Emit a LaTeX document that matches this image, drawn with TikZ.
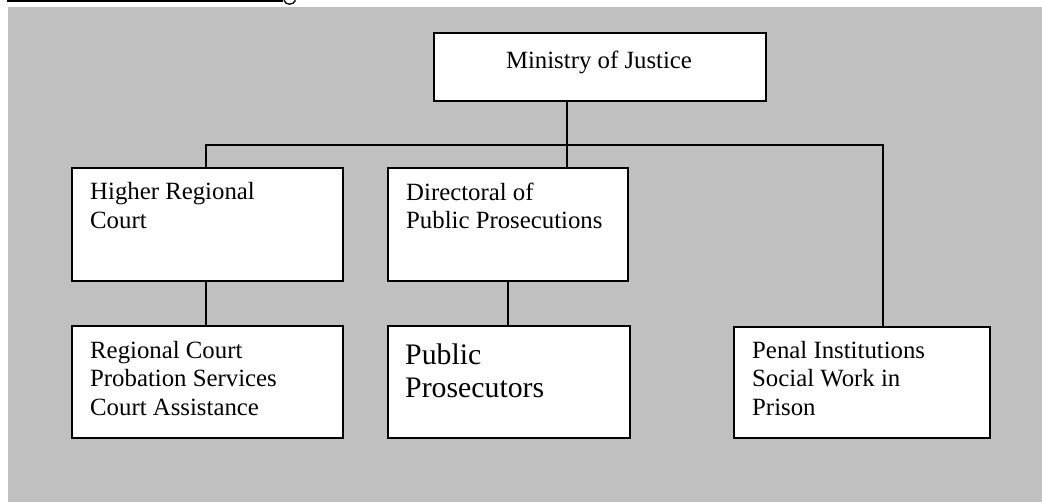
\documentclass[tikz,border=0pt]{standalone}
\usepackage{fontspec}
\setmainfont{Liberation Serif}
\definecolor{panel}{HTML}{C0C0C0}
\begin{document}
\begin{tikzpicture}[x=1pt,y=-1pt,
  unitbox/.style={draw=black, line width=1.8pt, fill=white, inner sep=0pt, anchor=north west},
  link/.style={line width=1.8pt},
  body/.style={inner sep=0pt, align=left, anchor=base west,
    font=\fontsize{24.8}{28.5}\selectfont},
  big/.style={body, font=\fontsize{29.8}{33}\selectfont}]
\useasboundingbox (0,0) rectangle (1042,502);

% heading rule and the tail of a descender above the panel
\fill (7,0) rectangle (283,2.5);
\draw[line width=1.3pt] (284,0.3) .. controls (285.5,5.5) and (293.5,5.5) .. (295.5,0.3);

% grey panel
\fill[panel] (8,7) rectangle (1042,502);

% boxes
\node[unitbox, minimum width=332pt, minimum height=68pt]  (ministry)    at (433,32)  {};
\node[unitbox, minimum width=271pt, minimum height=113pt] (higher)      at (71,167)  {};
\node[unitbox, minimum width=240pt, minimum height=113pt] (dpp)         at (387,167) {};
\node[unitbox, minimum width=271pt, minimum height=112pt] (regional)    at (71,325)  {};
\node[unitbox, minimum width=242pt, minimum height=112pt] (prosecutors) at (387,325) {};
\node[unitbox, minimum width=256pt, minimum height=111pt] (penal)       at (733,326) {};

% connectors
\coordinate (trunk) at (567,145);
\coordinate (barL)  at (206,145);
\coordinate (barR)  at (883,145);
\draw[link] (ministry.south -| trunk) -- (trunk) -- (dpp.north -| trunk);
\draw[link] (higher.north -| barL) -- (barL) -- (barR) -- (penal.north -| barR);
\draw[link] (higher.south -| barL) -- (regional.north -| barL);
\draw[link] (dpp.south) -- (dpp.south |- prosecutors.north);

% labels (multi-line labels sit on the baseline of their last line)
\node[body, anchor=base] (ministry-text) at (599,69) {Ministry of Justice};
\node[body] (higher-text)      at (90,228.5)  {Higher Regional\\Court};
\node[body] (dpp-text)         at (406,229)   {Directoral of\\Public Prosecutions};
\node[body] (regional-text)    at (90,415.5)  {Regional Court\\Probation Services\\Court Assistance};
\node[big]  (prosecutors-text) at (405,398)   {Public\\Prosecutors};
\node[body] (penal-text)       at (752,415.5) {Penal Institutions\\Social Work in\\Prison};
\end{tikzpicture}
\end{document}
